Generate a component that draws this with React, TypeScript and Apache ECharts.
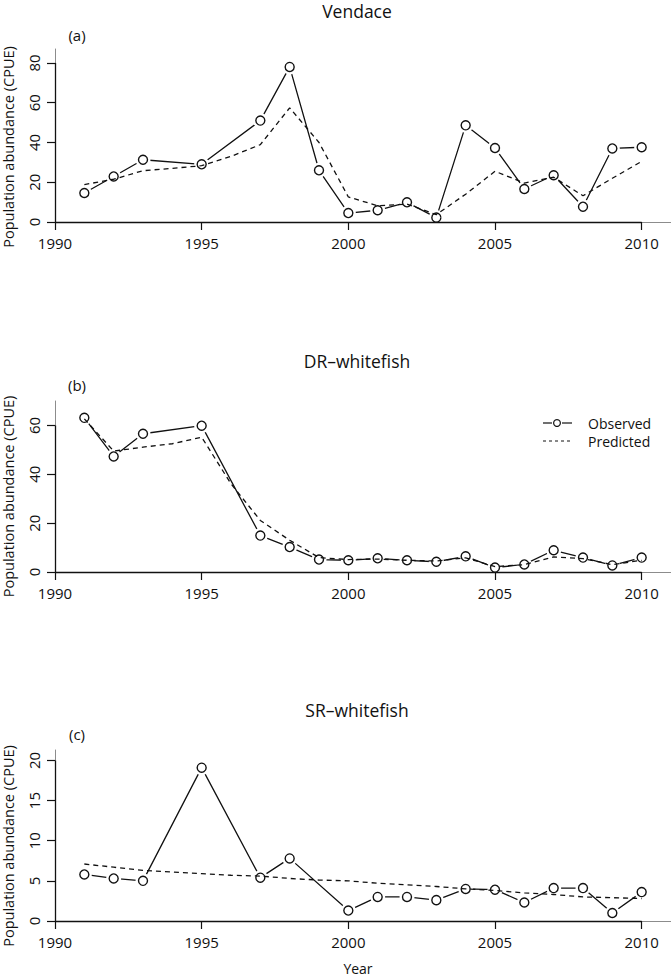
import React, { useEffect, useRef } from "react";
import * as echarts from "echarts";

const FONT = '"Open Sans", "Noto Sans", sans-serif';
const INK = "#111";

const xTicks = [1990, 1995, 2000, 2005, 2010];
const predYears = [1991, 1992, 1993, 1994, 1995, 1996, 1997, 1998, 1999, 2000, 2001, 2002, 2003, 2004, 2005, 2006, 2007, 2008, 2009, 2010];

// (a) Vendace
const vendaceObsYears = [1991, 1992, 1993, 1995, 1997, 1998, 1999, 2000, 2001, 2002, 2003, 2004, 2005, 2006, 2007, 2008, 2009, 2010];
const vendaceObs = [14.6, 22.9, 31.3, 29.0, 51.0, 78.0, 26.0, 4.5, 5.9, 9.9, 2.2, 48.6, 37.2, 16.6, 23.5, 7.7, 37.0, 37.6];
const vendacePred = [18.8, 21.5, 25.8, 27.0, 28.3, 33.0, 38.9, 57.4, 40.0, 12.6, 8.2, 9.0, 3.7, 14.0, 25.5, 19.6, 22.5, 13.2, 22.0, 30.5];
const vendaceYTicks = [0, 20, 40, 60, 80];

// (b) DR-whitefish
const drObsYears = [1991, 1992, 1993, 1995, 1997, 1998, 1999, 2000, 2001, 2002, 2003, 2004, 2005, 2006, 2007, 2008, 2009, 2010];
const drObs = [63.1, 47.3, 56.6, 59.9, 14.9, 10.2, 5.1, 4.8, 5.6, 4.8, 4.2, 6.4, 1.8, 3.1, 8.9, 5.9, 2.7, 5.9];
const drPred = [62.7, 49.5, 51.1, 52.5, 55.2, 36.1, 21.1, 13.0, 5.9, 5.1, 5.3, 4.8, 4.5, 5.8, 2.2, 3.0, 6.2, 5.5, 3.0, 4.8];
const drYTicks = [0, 20, 40, 60];

// (c) SR-whitefish
const srObsYears = [1991, 1992, 1993, 1995, 1997, 1998, 2000, 2001, 2002, 2003, 2004, 2005, 2006, 2007, 2008, 2009, 2010];
const srObs = [5.8, 5.3, 5.0, 19.1, 5.4, 7.8, 1.3, 3.0, 3.0, 2.6, 4.0, 3.9, 2.3, 4.1, 4.1, 1.0, 3.6];
const srPred = [7.1, 6.7, 6.3, 6.1, 5.9, 5.7, 5.6, 5.3, 5.1, 5.0, 4.7, 4.5, 4.3, 4.0, 3.8, 3.5, 3.3, 3.0, 2.9, 2.8];
const srYTicks = [0, 5, 10, 15, 20];

const panels = [
  { title: "Vendace", tag: "(a)", top: 49, height: 173, yMax: 87, step: 20, yTicks: vendaceYTicks, obsYears: vendaceObsYears, obs: vendaceObs, pred: vendacePred },
  { title: "DR\u2013whitefish", tag: "(b)", top: 401, height: 171, yMax: 70, step: 20, yTicks: drYTicks, obsYears: drObsYears, obs: drObs, pred: drPred },
  { title: "SR\u2013whitefish", tag: "(c)", top: 750, height: 171, yMax: 21.3, step: 5, yTicks: srYTicks, obsYears: srObsYears, obs: srObs, pred: srPred },
];

function buildOption() {
  const grid: any[] = [];
  const xAxis: any[] = [];
  const yAxis: any[] = [];
  const series: any[] = [];
  const graphic: any[] = [];
  const offsets = [0, 349.5, 699];

  panels.forEach((p, i) => {
    grid.push({ left: 55, top: p.top, width: 616, height: p.height, containLabel: false });
    xAxis.push({
      gridIndex: i, type: "value", min: 1990, max: 2011, interval: 5, z: 10,
      axisLine: { show: true, onZero: false, lineStyle: { color: "#8c8c8c", width: 1 } },
      axisTick: { show: true, length: 8, customValues: xTicks, lineStyle: { color: INK, width: 1.2 } },
      axisLabel: {
        color: INK, fontFamily: FONT, fontSize: 15, margin: 13, customValues: xTicks,
        formatter: (v: number) => String(Math.round(v)),
      },
      splitLine: { show: false },
    });
    yAxis.push({
      gridIndex: i, type: "value", min: 0, max: p.yMax, interval: p.step, z: 10,
      axisLine: { show: true, onZero: false, lineStyle: { color: "#8c8c8c", width: 1 } },
      axisTick: { show: true, length: 8, customValues: p.yTicks, lineStyle: { color: INK, width: 1.2 } },
      axisLabel: {
        color: INK, fontFamily: FONT, fontSize: 15, margin: 14, rotate: 90, customValues: p.yTicks,
        formatter: (v: number) => String(Math.round(v)),
      },
      splitLine: { show: false },
    });
    const obsData = p.obsYears.map((y, k) => [y, p.obs[k]]);
    const predData = predYears.map((y, k) => [y, p.pred[k]]);
    series.push({
      type: "line", xAxisIndex: i, yAxisIndex: i, data: obsData, symbol: "none", showSymbol: false,
      lineStyle: { color: INK, width: 1.3 }, z: 2, silent: true,
    });
    series.push({
      type: "scatter", xAxisIndex: i, yAxisIndex: i, data: obsData, symbol: "circle", symbolSize: 15,
      itemStyle: { color: "#ffffff", borderWidth: 0, opacity: 1 }, z: 3, silent: true,
    });
    series.push({
      type: "line", xAxisIndex: i, yAxisIndex: i, data: predData, symbol: "none", showSymbol: false,
      lineStyle: { color: INK, width: 1.3, type: [5, 4] }, z: 4, silent: true,
      markLine: {
        silent: true, symbol: ["none", "none"], label: { show: false }, z: 11,
        lineStyle: { color: INK, width: 1.3, type: "solid" },
        data: [
          [{ coord: [1990, 0] }, { coord: [2010, 0] }],
          [{ coord: [1990, 0] }, { coord: [1990, p.yTicks[p.yTicks.length - 1]] }],
        ],
      },
    });
    series.push({
      type: "scatter", xAxisIndex: i, yAxisIndex: i, data: obsData, symbol: "circle", symbolSize: 9,
      itemStyle: { color: "rgba(255,255,255,0)", borderColor: INK, borderWidth: 1.4, opacity: 1 }, z: 5, silent: true,
    });

    const off = offsets[i];
    graphic.push({
      type: "text", x: 357, y: 2 + off,
      style: { text: p.title, fontFamily: FONT, fontSize: 17.5, fill: INK, align: "center", verticalAlign: "top" },
    });
    graphic.push({
      type: "text", x: 77, y: 35 + off,
      style: { text: p.tag, fontFamily: FONT, fontSize: 15, fill: INK, align: "center", verticalAlign: "middle" },
    });
    graphic.push({
      type: "text", x: 8.5, y: 147 + off, rotation: Math.PI / 2,
      style: { text: "Population abundance (CPUE)", fontFamily: FONT, fontSize: 14.5, fill: INK, align: "center", verticalAlign: "middle" },
    });
  });

  graphic.push({
    type: "text", x: 358, y: 968,
    style: { text: "Year", fontFamily: FONT, fontSize: 14, fill: INK, align: "center", verticalAlign: "middle" },
  });

  // legend in panel (b)
  graphic.push({ type: "line", shape: { x1: 543, y1: 423, x2: 552, y2: 423 }, style: { stroke: INK, lineWidth: 1.2 } });
  graphic.push({ type: "line", shape: { x1: 562, y1: 423, x2: 572, y2: 423 }, style: { stroke: INK, lineWidth: 1.2 } });
  graphic.push({ type: "circle", shape: { cx: 557, cy: 423, r: 3.4 }, style: { fill: "none", stroke: INK, lineWidth: 1.2 } });
  graphic.push({ type: "line", shape: { x1: 543, y1: 441, x2: 572, y2: 441 }, style: { stroke: INK, lineWidth: 1, lineDash: [3, 3] } });
  graphic.push({
    type: "text", x: 588, y: 423,
    style: { text: "Observed", fontFamily: FONT, fontSize: 14, fill: INK, align: "left", verticalAlign: "middle" },
  });
  graphic.push({
    type: "text", x: 588, y: 441,
    style: { text: "Predicted", fontFamily: FONT, fontSize: 14, fill: INK, align: "left", verticalAlign: "middle" },
  });

  return {
    animation: false,
    backgroundColor: "#ffffff",
    textStyle: { fontFamily: FONT },
    grid, xAxis, yAxis, series, graphic,
  };
}

export default function App() {
  const ref = useRef<HTMLDivElement>(null);
  useEffect(() => {
    document.body.style.margin = "0";
    if (!ref.current) return;
    const chart = echarts.init(ref.current, undefined, { renderer: "svg" });
    chart.setOption(buildOption() as any);
    return () => chart.dispose();
  }, []);
  return <div ref={ref} style={{ width: 671, height: 977, background: "#fff" }} />;
}
